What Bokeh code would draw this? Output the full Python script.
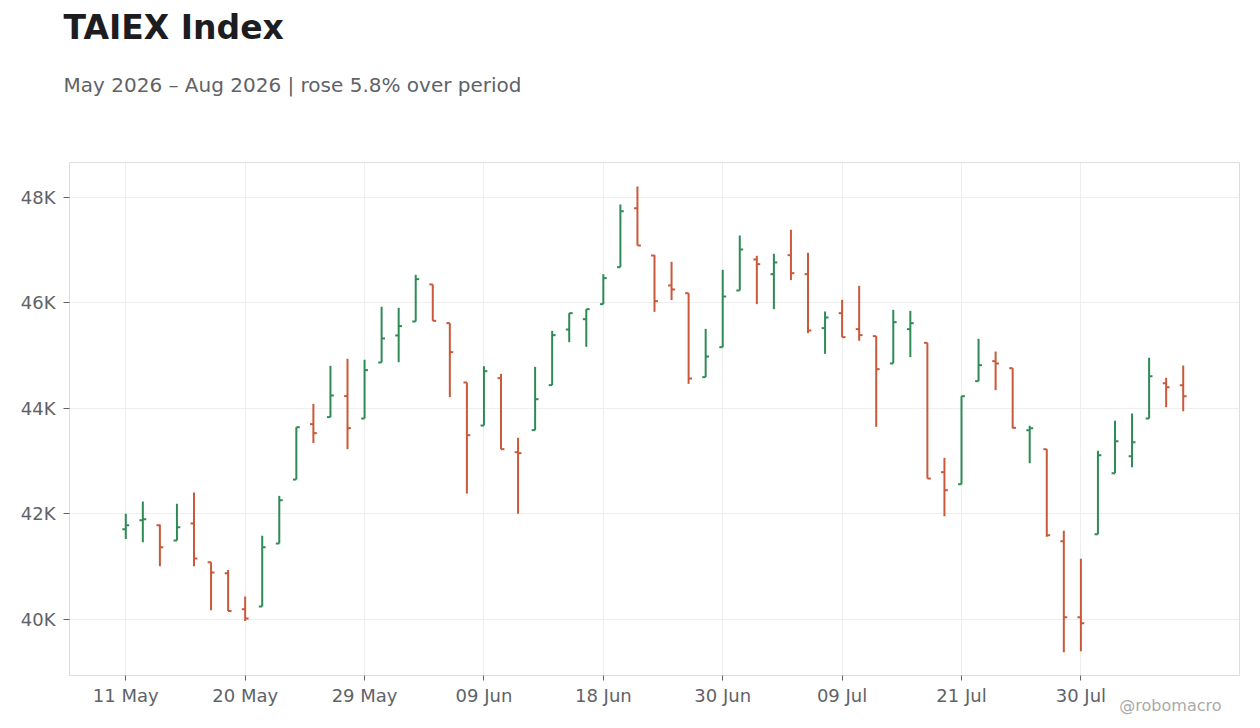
import numpy as np
from bokeh.plotting import figure
from bokeh.models import ColumnDataSource, Range1d, FixedTicker, Title
from bokeh.embed import file_html
from bokeh.resources import INLINE

# OHLC values, one per trading day (11 May - 07 Aug 2026)
opens = [41712, 41882, 41787, 41497, 41819, 41086, 40877, 40195, 40245, 41440,
         42653, 43703, 43836, 44234, 43810, 44872, 45384, 45649, 46351, 45618,
         44493, 43677, 44575, 43171, 43589, 44442, 45497, 45693, 45978, 46679,
         47798, 46900, 46332, 46186, 44594, 45162, 46237, 46825, 46546, 46907,
         46546, 45523, 45807, 45504, 45371, 44853, 45504, 45245, 42792, 42565,
         44518, 44897, 44764, 43589, 43229, 41484, 40043, 41617, 42774, 43096,
         43810, 44480, 44442]
highs = [42002, 42236, 41800, 42192, 42407, 41086, 40940, 40435, 41585, 42343,
         43645, 44088, 44809, 44942, 44923, 45928, 45909, 46534, 46351, 45618,
         44493, 44802, 44657, 43443, 44789, 45472, 45807, 45883, 46546, 47867,
         48209, 46907, 46780, 46186, 45510, 46629, 47280, 46894, 46932, 47387,
         46951, 45839, 46060, 46325, 45371, 45870, 45851, 45245, 43064, 44233,
         45320, 45080, 44764, 43671, 43229, 41680, 41149, 43197, 43766, 43905,
         44960, 44581, 44815]
lows = [41528, 41465, 41010, 41497, 41010, 40176, 40163, 39973, 40245, 41440,
        42653, 43343, 43836, 43229, 43810, 44872, 44878, 45649, 45662, 44215,
        42388, 43677, 43228, 42002, 43589, 44442, 45257, 45169, 45978, 46679,
        47090, 45832, 46054, 44467, 44594, 45162, 46237, 45978, 45883, 46433,
        45428, 45036, 45352, 45283, 43652, 44853, 44973, 42672, 41958, 42565,
        44518, 44347, 43620, 42963, 41566, 39380, 39399, 41617, 42774, 42887,
        43810, 44025, 43949]
closes = [41787, 41901, 41370, 41749, 41155, 40890, 40163, 40018, 41370, 42261,
          43645, 43532, 44246, 43627, 44727, 45327, 45561, 46452, 45662, 45068,
          43494, 44707, 43228, 43153, 44176, 45390, 45807, 45883, 46471, 47741,
          47090, 46035, 46256, 44568, 44985, 46123, 47014, 46736, 46768, 46565,
          45478, 45725, 45352, 45390, 44745, 45636, 45617, 42672, 42451, 44233,
          44821, 44853, 43633, 43627, 41598, 40043, 39930, 43115, 43380, 43361,
          44613, 44404, 44234]

tick_idx = [0, 7, 14, 21, 28, 35, 42, 49, 56]
tick_labels = ["11 May", "20 May", "29 May", "09 Jun", "18 Jun", "30 Jun",
               "09 Jul", "21 Jul", "30 Jul"]
y_ticks = [40000, 42000, 44000, 46000, 48000]

UP = "#2e8b57"
DOWN = "#c8593b"
FONT = "DejaVu Sans"
GREY = "#5f6368"

x = np.arange(len(opens))
colors = [UP if c >= o else DOWN for o, c in zip(opens, closes)]
src = ColumnDataSource(dict(x=x, x_l=x - 0.2, x_r=x + 0.2, open=opens, high=highs,
                            low=lows, close=closes, color=colors))

p = figure(width=1244, height=720, output_backend="svg", toolbar_location=None,
           x_range=Range1d(-3.3, 65.3), y_range=Range1d(38938, 48663),
           min_border_left=69, min_border_right=5, min_border_bottom=45)

# high-low line, open tick to the left, close tick to the right
p.segment(x0="x", y0="low", x1="x", y1="high", line_color="color", line_width=2, source=src)
p.segment(x0="x_l", y0="open", x1="x", y1="open", line_color="color", line_width=2, source=src)
p.segment(x0="x", y0="close", x1="x_r", y1="close", line_color="color", line_width=2, source=src)

p.xaxis.ticker = FixedTicker(ticks=tick_idx)
p.xaxis.major_label_overrides = {i: t for i, t in zip(tick_idx, tick_labels)}
p.yaxis.ticker = FixedTicker(ticks=y_ticks)
p.yaxis.major_label_overrides = {v: f"{v // 1000}K" for v in y_ticks}

for ax in (p.xaxis, p.yaxis):
    ax.axis_line_color = None
    ax.major_tick_line_color = GREY
    ax.major_tick_in = 0
    ax.minor_tick_line_color = None
    ax.major_label_text_font = FONT
    ax.major_label_text_font_size = "18px"
    ax.major_label_text_color = GREY
p.xaxis.major_tick_out = 5
p.xaxis.major_label_standoff = 4
p.yaxis.major_tick_out = 6
p.yaxis.major_label_standoff = 8

p.grid.grid_line_color = "#eeeeee"
p.outline_line_color = "#dddddd"
p.background_fill_color = "white"
p.border_fill_color = "white"

# titles stack outward: spacer, subtitle, spacer, main title
p.add_layout(Title(text=" ", text_font_size="44px"), "above")
p.add_layout(Title(text="May 2026 \u2013 Aug 2026 | rose 5.8% over period", text_font=FONT,
                   text_font_size="20px", text_font_style="normal", text_color=GREY,
                   offset=-6), "above")
p.add_layout(Title(text=" ", text_font_size="2px"), "above")
p.add_layout(Title(text="TAIEX Index", text_font=FONT, text_font_size="33px",
                   text_font_style="bold", text_color="#1c1c21", offset=-6), "above")

# watermark under the x axis, right aligned
p.add_layout(Title(text="@robomacro", text_font=FONT, text_font_size="16px",
                   text_font_style="normal", text_color="#aaaaaa", align="right",
                   vertical_align="top", standoff=-26, offset=18), "below")

open("out.html", "w").write(file_html(p, INLINE))
